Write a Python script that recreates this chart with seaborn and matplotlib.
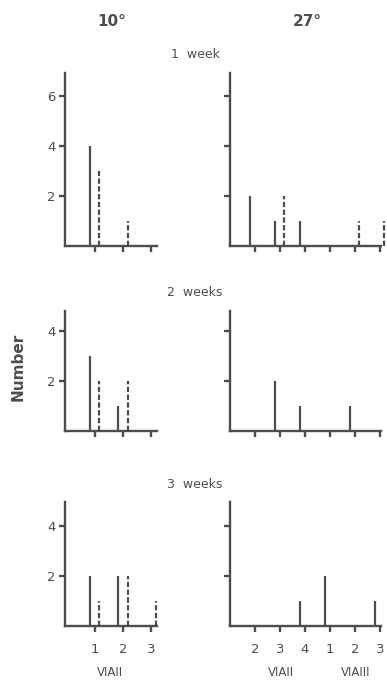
import numpy as np
import seaborn as sns
import matplotlib.pyplot as plt

# stage counts, one row per week (1, 2, 3 weeks)
weeks = ["1  week", "2  weeks", "3  weeks"]
cold_ticks = ["1", "2", "3"]
cold_solid = [[4, 0, 0], [3, 1, 0], [2, 2, 0]]
cold_dashed = [[3, 1, 0], [2, 2, 0], [1, 2, 1]]
warm_ticks = ["2", "3", "4", "1", "2", "3"]
warm_solid = [[2, 1, 1, 0, 0, 0], [0, 2, 1, 0, 1, 0], [0, 0, 1, 2, 0, 1]]
warm_dashed = [[0, 2, 0, 0, 1, 1], [0, 0, 0, 0, 0, 0], [0, 0, 0, 0, 0, 0]]
y_max = [6.9, 4.8, 4.95]
y_ticks = [[2, 4, 6], [2, 4], [2, 4]]

sns.set_style("ticks")
ink = "#4d4d4d"
plt.rcParams["font.family"] = ["DejaVu Sans"]

fig = plt.figure(figsize=(3.87, 6.8), dpi=100)
W, H = 387, 680
# axes boxes in pixel coords: (left, right) and (top, baseline) per week
cols = [(65, 157), (230, 381)]
rows = [(73, 246), (311, 431), (502, 626)]


def stick(ax, counts, offset, ls):
    counts = np.asarray(counts)
    pos = np.arange(1, len(counts) + 1) + offset
    keep = counts > 0
    ax.vlines(pos[keep], 0, counts[keep], color=ink, lw=1.6, linestyles=ls,
              clip_on=False)


for r, (top, base) in enumerate(rows):
    for c, (left, right) in enumerate(cols):
        ax = fig.add_axes([left / W, (H - base) / H, (right - left) / W, (base - top) / H])
        if c == 0:
            solid, dashed, labels = cold_solid[r], cold_dashed[r], cold_ticks
            ax.set_xlim(-0.05, 3.2)
        else:
            solid, dashed, labels = warm_solid[r], warm_dashed[r], warm_ticks
            ax.set_xlim(0, 6.05)
        stick(ax, solid, -0.18, "solid")
        stick(ax, dashed, 0.16, (0, (2.4, 1.1)))
        ax.set_ylim(0, y_max[r])
        ax.set_yticks(y_ticks[r])
        ax.set_xticks(range(1, len(labels) + 1))
        sns.despine(ax=ax)
        for s in ["left", "bottom"]:
            ax.spines[s].set_linewidth(1.7)
            ax.spines[s].set_color(ink)
        ax.tick_params(direction="out", length=4, width=1.7, color=ink,
                       labelcolor=ink, labelsize=9.5, pad=3)
        ax.tick_params(axis="x", pad=8)
        if c == 1:
            ax.set_yticklabels([])
        if r < 2:
            ax.set_xticklabels([])
        else:
            ax.set_xticklabels(labels)

    fig.text(195 / W, 1 - (top - 18) / H, weeks[r], ha="center", va="center",
             fontsize=9, color=ink)

fig.text(112 / W, 1 - 22 / H, "10°", ha="center", va="center", fontsize=11,
         color=ink, fontweight="semibold")
fig.text(307 / W, 1 - 22 / H, "27°", ha="center", va="center", fontsize=11,
         color=ink, fontweight="semibold")
fig.text(18 / W, 1 - 367 / H, "Number", rotation=90, ha="center", va="center",
         fontsize=11, color=ink, fontweight="semibold")
for x, lab in [(110, "VIAII"), (281, "VIAII"), (356, "VIAIII")]:
    fig.text(x / W, 1 - 672 / H, lab, ha="center", va="center", fontsize=8.5, color=ink)

plt.savefig("out.png", dpi=100)
plt.close()
